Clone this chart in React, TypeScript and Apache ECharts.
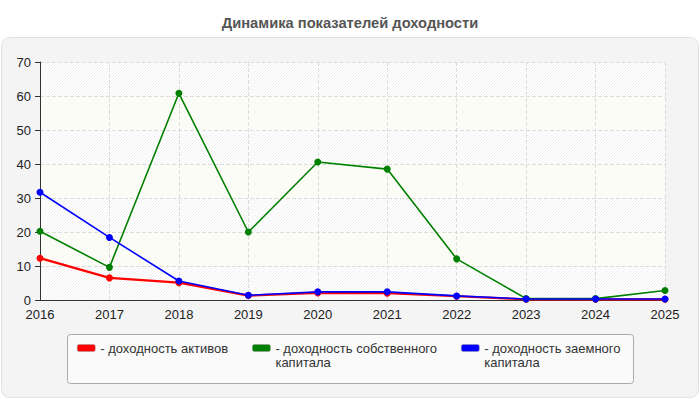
import React, { useEffect, useRef } from "react";
import * as echarts from "echarts";

const years = ["2016", "2017", "2018", "2019", "2020", "2021", "2022", "2023", "2024", "2025"];
const seriesNames = ["доходность активов", "доходность собственного капитала", "доходность заемного капитала"];
const legendLabels = ["- доходность активов", "\n- доходность собственного\nкапитала", "\n- доходность заемного\nкапитала"];
const assetsReturn = [12.3, 6.5, 5.1, 1.3, 2.1, 2.0, 1.1, 0.2, 0.2, 0.2];
const equityReturn = [20.2, 9.6, 60.8, 20.0, 40.6, 38.5, 12.1, 0.4, 0.4, 2.8];
const debtReturn = [31.7, 18.4, 5.6, 1.4, 2.4, 2.4, 1.2, 0.3, 0.3, 0.3];
const colors = ["#ff0000", "#008000", "#0000ff"];
const title = "Динамика показателей доходности";

function makeHatch(): string {
  const c = document.createElement("canvas");
  c.width = 6;
  c.height = 6;
  const ctx = c.getContext("2d");
  if (!ctx) return "#f6f6f6";
  ctx.fillStyle = "#ffffff";
  ctx.fillRect(0, 0, 6, 6);
  ctx.strokeStyle = "#f0f0f0";
  ctx.lineWidth = 1;
  for (let k = -6; k <= 12; k += 3) {
    ctx.beginPath();
    ctx.moveTo(k, 6);
    ctx.lineTo(k + 6, 0);
    ctx.stroke();
  }
  return c.toDataURL();
}

const FONT = "Liberation Sans, Arial, sans-serif";

export default function App() {
  const ref = useRef<HTMLDivElement>(null);
  useEffect(() => {
    if (!ref.current) return;
    const chart = echarts.init(ref.current, null, { renderer: "svg" });
    const hatchUrl = makeHatch();
    const hatch: any = hatchUrl.startsWith("data:")
      ? { image: hatchUrl, repeat: "repeat" }
      : hatchUrl;
    const data = [assetsReturn, equityReturn, debtReturn];
    chart.setOption({
      animation: false,
      backgroundColor: "#ffffff",
      textStyle: { fontFamily: FONT },
      title: {
        text: title,
        left: "center",
        top: 10,
        textStyle: { fontSize: 14.7, fontWeight: "bold", color: "#555555", fontFamily: FONT },
      },
      graphic: [
        {
          type: "rect",
          z: -10,
          silent: true,
          shape: { x: 1.5, y: 37.5, width: 697, height: 360, r: 8 },
          style: { fill: "#f4f4f4", stroke: "#e2e2e2", lineWidth: 1 },
        },
        {
          type: "rect",
          z: -9,
          silent: true,
          shape: { x: 67.5, y: 334.5, width: 566, height: 49, r: 3 },
          style: { fill: "#fafafa", stroke: "#aaaaaa", lineWidth: 1 },
        },
      ],
      legend: {
        left: 77,
        top: 327,
        padding: 0,
        itemGap: 24,
        itemWidth: 18,
        itemHeight: 7,
        icon: "roundRect",
        data: seriesNames.map((n, i) => ({
          name: n,
          itemStyle: { color: colors[i], borderColor: "#999999", borderWidth: 0.5 },
        })),
        formatter: (name: string) => legendLabels[seriesNames.indexOf(name)],
        textStyle: { fontSize: 13, color: "#333333", lineHeight: 14, fontFamily: FONT },
      },
      grid: { left: 40, right: 35, top: 62, bottom: 100 },
      xAxis: {
        type: "category",
        data: years,
        boundaryGap: false,
        axisLine: { lineStyle: { color: "#333333", width: 1 } },
        axisTick: { show: false },
        axisLabel: { color: "#222222", fontSize: 13, margin: 8 },
        splitLine: { show: true, lineStyle: { color: "#dddddd", type: "dashed" } },
      },
      yAxis: {
        type: "value",
        min: 0,
        max: 70,
        interval: 10,
        axisLine: { show: true, lineStyle: { color: "#333333", width: 1 } },
        axisTick: { show: true, length: 5, lineStyle: { color: "#333333" } },
        axisLabel: { color: "#222222", fontSize: 13, margin: 9 },
        splitLine: { show: true, lineStyle: { color: "#dddddd", type: "dashed" } },
        splitArea: { show: true, areaStyle: { color: [hatch, "#fcfcf6"] } },
      },
      series: seriesNames.map((n, i) => ({
        name: n,
        type: "line",
        data: data[i],
        symbol: "circle",
        symbolSize: 7,
        lineStyle: { color: colors[i], width: i === 0 ? 2.2 : 1.6 },
        itemStyle: { color: colors[i] },
        z: 2 + i,
      })),
    });
    return () => chart.dispose();
  }, []);
  return <div ref={ref} style={{ position: "fixed", left: 0, top: 0, width: 700, height: 400 }} />;
}
